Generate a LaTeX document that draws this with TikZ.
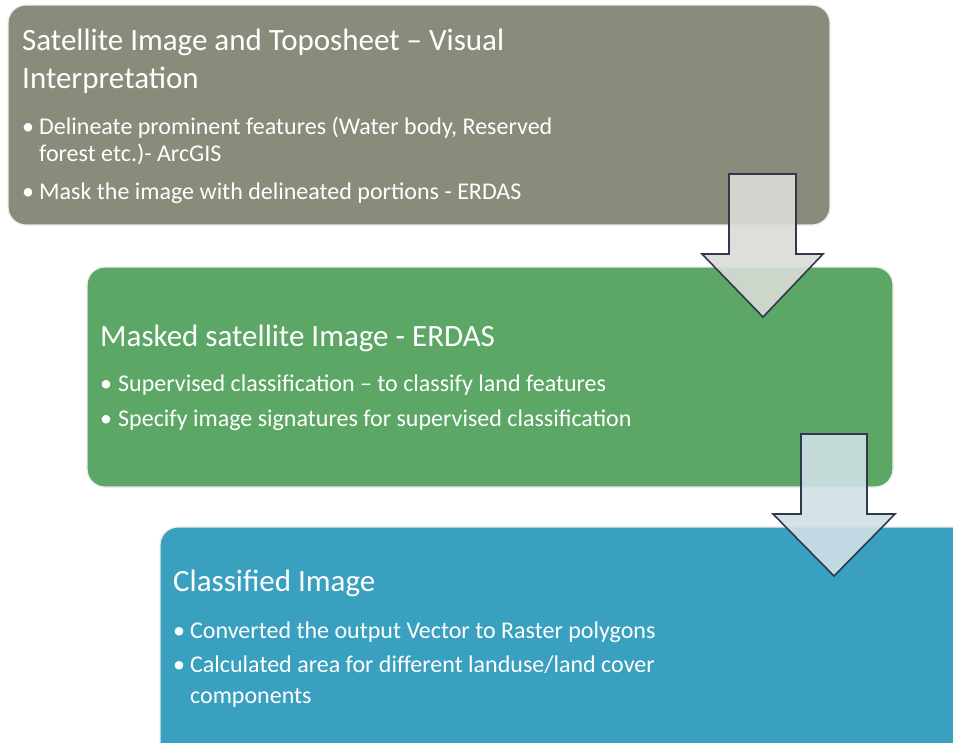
\documentclass[tikz,border=0pt]{standalone}
\usepackage{fontspec}
\setmainfont{Carlito}
\definecolor{visualgray}{RGB}{139,139,123}
\definecolor{maskgreen}{RGB}{93,167,102}
\definecolor{classblue}{RGB}{58,160,192}
\definecolor{arrowline}{RGB}{47,56,76}
\definecolor{arrowgray}{RGB}{218,220,214}
\definecolor{arrowblue}{RGB}{208,224,230}
\begin{document}
\begin{tikzpicture}[
  x=1pt, y=-1pt,
  every node/.style={text=white, inner sep=0pt},
  stage/.style={draw=white!85!gray, line width=1.2pt, rounded corners=18pt},
  heading/.style={anchor=base west, font=\fontsize{31}{38}\selectfont},
  point/.style={anchor=base west, font=\fontsize{24}{27}\selectfont}
]
  \tikzset{blockarrow/.style={draw=arrowline, line width=1.6pt, line join=miter, fill opacity=0.9}}
  \useasboundingbox (0,0) rectangle (953,742);
  \clip (0,0) rectangle (953,742);

  % stages
  \draw[stage, fill=visualgray] (8,5) rectangle (830,225);
  \draw[stage, fill=maskgreen] (87,267) rectangle (893,487);
  \draw[stage, fill=classblue] (160,527) rectangle (990,780);

  % first stage
  \node[heading] (visualtitle) at (22,50) {Satellite Image and Toposheet -- Visual};
  \node[heading] (visualtitle2) at (22,88) {Interpretation};
  \node[point] (visualdot1) at (22,134) {\textbullet};
  \node[point] (visualtext1) at (39,134) {Delineate prominent features (Water body, Reserved};
  \node[point] (visualtext1b) at (39,161) {forest etc.)- ArcGIS};
  \node[point] (visualdot2) at (22,199) {\textbullet};
  \node[point] (visualtext2) at (39,199) {Mask the image with delineated portions - ERDAS};

  % second stage
  \node[heading] (masktitle) at (100,346) {Masked satellite Image - ERDAS};
  \node[point] (maskdot1) at (100,391) {\textbullet};
  \node[point] (masktext1) at (118,391) {Supervised classification -- to classify land features};
  \node[point] (maskdot2) at (100,426) {\textbullet};
  \node[point] (masktext2) at (118,426) {Specify image signatures for supervised classification};

  % third stage
  \node[heading] (classtitle) at (173,591) {Classified Image};
  \node[point] (classdot1) at (173,638) {\textbullet};
  \node[point] (classtext1) at (190,638) {Converted the output Vector to Raster polygons};
  \node[point] (classdot2) at (173,672) {\textbullet};
  \node[point] (classtext2) at (190,672) {Calculated area for different landuse/land cover};
  \node[point] (classtext2b) at (190,703) {components};

  % block arrows
  \draw[blockarrow, fill=arrowgray] (729,174) -- (796,174) -- (796,254) -- (823,254)
    -- (763,317) -- (702,254) -- (729,254) -- cycle;
  \draw[blockarrow, fill=arrowblue] (801,434) -- (867,434) -- (867,514) -- (895,514)
    -- (834,576) -- (773,514) -- (801,514) -- cycle;
\end{tikzpicture}
\end{document}
